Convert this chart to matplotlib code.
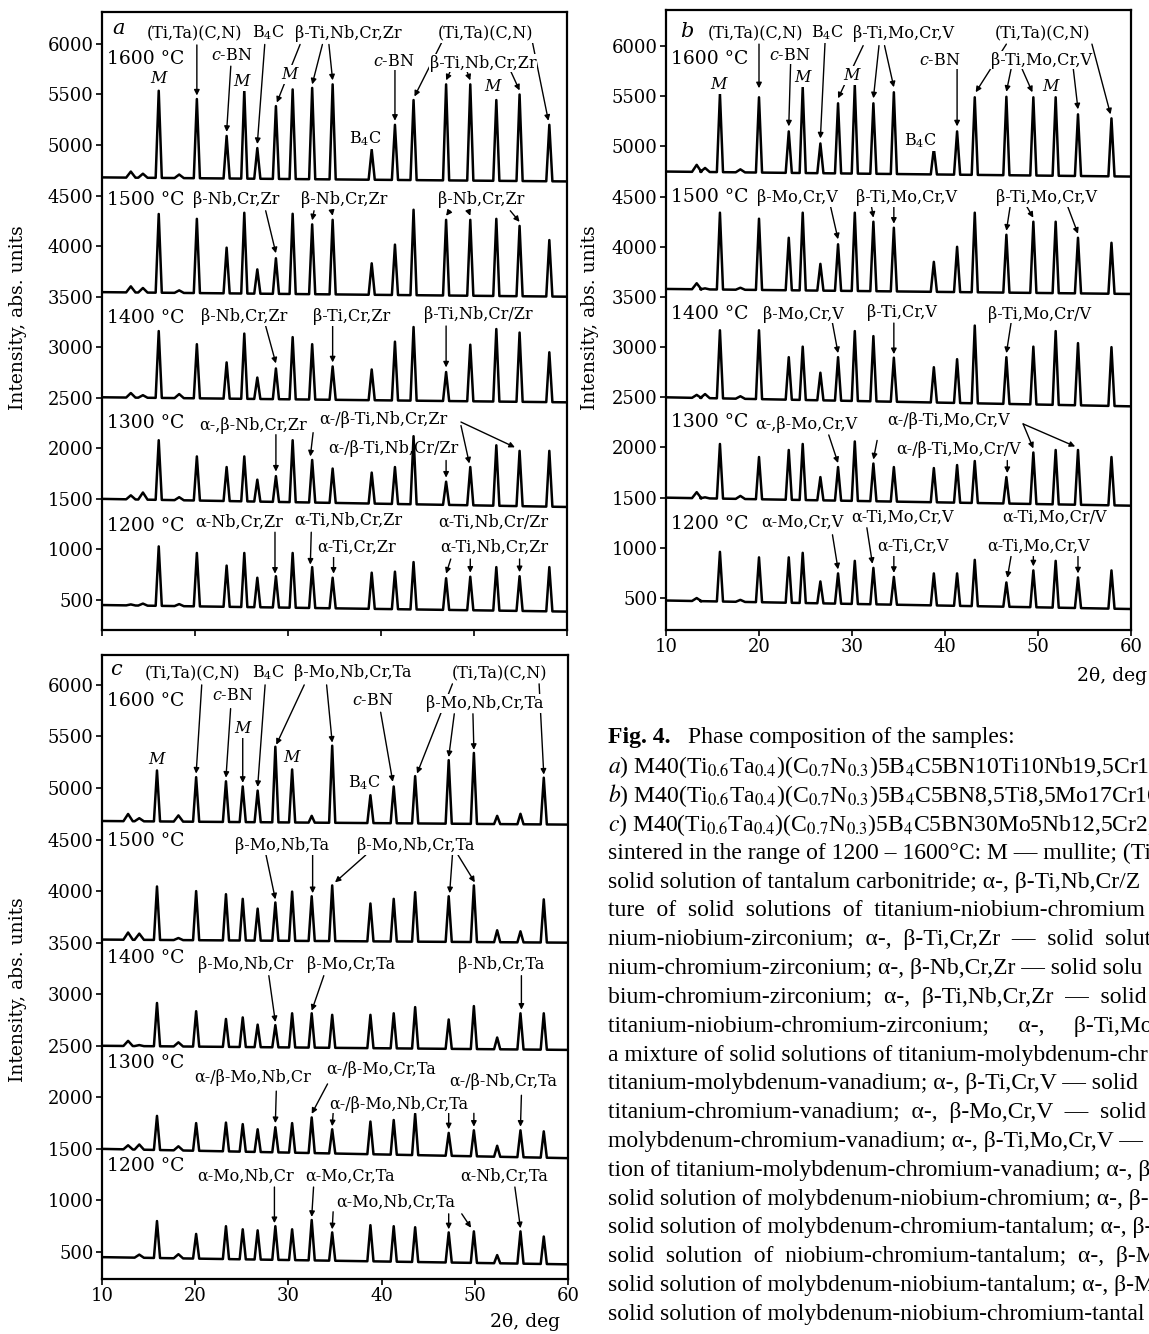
import numpy as np
import matplotlib.pyplot as plt

plt.rcParams['font.family'] = 'DejaVu Serif'
plt.rcParams['mathtext.fontset'] = 'dejavuserif'

temps = ['1600 °C', '1500 °C', '1400 °C', '1300 °C', '1200 °C']

# ---- panel a: peak positions (2theta) and apex intensities per temperature
pos_a = [16.1, 20.2, 23.4, 25.3, 26.7, 28.7, 30.5, 32.6, 34.8, 39.0, 41.5, 43.5, 47.0, 49.6, 52.4, 54.9, 58.1]
a_1600 = [5537, 5455, 5090, 5545, 4970, 5385, 5550, 5565, 5600, 4955, 5200, 5445, 5600, 5600, 5445, 5500, 5200]
a_1500 = [4318, 4270, 3985, 4330, 3770, 3880, 4320, 4215, 4260, 3830, 4015, 4360, 4260, 4260, 4270, 4200, 4060]
a_1400 = [3160, 3030, 2850, 3135, 2700, 2790, 3100, 3030, 2810, 2780, 3055, 3200, 2755, 3025, 3180, 3145, 2950]
a_1300 = [2080, 1920, 1815, 1920, 1690, 1725, 2080, 1885, 1800, 1760, 1815, 2120, 1670, 1815, 2030, 1975, 1975]
a_1200 = [1030, 965, 840, 965, 720, 735, 965, 825, 720, 770, 780, 875, 715, 730, 825, 735, 825]
base_a = [(4680, 4640), (3545, 3500), (2505, 2455), (1500, 1420), (450, 385)]
minor_pos_a = [13.1, 14.4, 18.3]
minor_a = [[60, 40, 35], [60, 45, 25], [45, 25, 40], [40, 70, 30], [10, 20, 20]]

# ---- panel b
pos_b = [15.8, 20.0, 23.2, 24.7, 26.6, 28.5, 30.3, 32.3, 34.5, 38.8, 41.3, 43.2, 46.6, 49.5, 51.9, 54.3, 57.9]
b_1600 = [5525, 5490, 5150, 5590, 5030, 5430, 5610, 5430, 5540, 4980, 5150, 5490, 5495, 5490, 5490, 5320, 5280]
b_1500 = [4340, 4280, 4090, 4340, 3830, 4025, 4340, 4250, 4190, 3850, 4000, 4340, 4120, 4250, 4250, 4090, 4040]
b_1400 = [3168, 3168, 2900, 3005, 2745, 2900, 3160, 3110, 2895, 2800, 2880, 3215, 2900, 3005, 3160, 3040, 3000]
b_1300 = [2035, 1905, 1975, 2035, 1705, 1805, 2060, 1840, 1805, 1795, 1825, 1865, 1705, 1950, 1975, 1975, 1905]
b_1200 = [960, 905, 905, 950, 665, 745, 870, 800, 710, 745, 745, 880, 655, 775, 870, 705, 775]
base_b = [(4750, 4700), (3580, 3530), (2500, 2410), (1500, 1420), (475, 390)]
minor_pos_b = [13.3, 14.2, 18.0]
minor_b = [[70, 40, 30], [60, 10, 20], [30, 40, 25], [60, 10, 30], [30, 0, 20]]

# ---- panel c
pos_c = [15.9, 20.1, 23.3, 25.1, 26.7, 28.6, 30.4, 32.5, 34.7, 38.8, 41.3, 43.6, 47.2, 49.9, 52.4, 54.9, 57.4]
c_1600 = [5170, 5105, 5065, 5015, 4975, 5400, 5180, 4730, 5410, 4930, 5015, 5115, 5270, 5340, 4730, 4750, 5100]
c_1500 = [4045, 4000, 3970, 3925, 3830, 3890, 3995, 3950, 4055, 3880, 3925, 3990, 3950, 4055, 3620, 3610, 3920]
c_1400 = [2915, 2835, 2760, 2775, 2705, 2700, 2815, 2815, 2800, 2800, 2815, 2875, 2755, 2885, 2580, 2815, 2815]
c_1300 = [1820, 1750, 1755, 1740, 1690, 1710, 1750, 1805, 1690, 1765, 1780, 1840, 1655, 1680, 1530, 1680, 1670]
c_1200 = [800, 675, 750, 720, 710, 750, 720, 810, 690, 760, 750, 740, 690, 700, 470, 700, 650]
base_c = [(4680, 4645), (3530, 3500), (2500, 2460), (1500, 1410), (450, 380)]
minor_pos_c = [12.8, 14.0, 18.2]
minor_c = [[70, 30, 60], [70, 60, 20], [50, 10, 40], [40, 50, 40], [0, 30, 40]]

temp_y_a = [5850, 4460, 3290, 2250, 1235]
temp_y_b = [5870, 4500, 3330, 2250, 1235]
temp_y_c = [5845, 4485, 3350, 2330, 1330]

# ---- annotations: (text, x, y[, background])
labels_a = [
    ('(Ti,Ta)(C,N)', 20.0, 6100), ('B$_4$C', 27.9, 6115), ('β-Ti,Nb,Cr,Zr', 36.5, 6100),
    ('$c$-BN', 24.0, 5890), ('$M$', 16.2, 5660), ('$M$', 25.1, 5630), ('$M$', 30.3, 5700),
    ('$M$', 52.1, 5580), ('B$_4$C', 38.3, 5065), ('$c$-BN', 41.4, 5830),
    ('(Ti,Ta)(C,N)', 51.2, 6100), ('β-Ti,Nb,Cr,Zr', 51.0, 5810),
    ('β-Nb,Cr,Zr', 24.4, 4460), ('β-Nb,Cr,Zr', 36.0, 4460), ('β-Nb,Cr,Zr', 50.8, 4460),
    ('β-Nb,Cr,Zr', 25.3, 3300), ('β-Ti,Cr,Zr', 36.8, 3300), ('β-Ti,Nb,Cr/Zr', 50.5, 3320),
    ('α-,β-Nb,Cr,Zr', 26.2, 2230), ('α-/β-Ti,Nb,Cr,Zr', 40.3, 2285),
    ('α-/β-Ti,Nb,Cr/Zr', 41.3, 2000, False),
    ('α-Nb,Cr,Zr', 24.8, 1270), ('α-Ti,Nb,Cr,Zr', 36.5, 1290), ('α-Ti,Cr,Zr', 37.4, 1020),
    ('α-Ti,Nb,Cr/Zr', 52.1, 1270), ('α-Ti,Nb,Cr,Zr', 52.2, 1020),
]
arrows_a = [
    (20.2, 5990, 20.2, 5490), (27.5, 5995, 26.7, 5010), (31.3, 5995, 28.8, 5420),
    (33.7, 5995, 32.6, 5600), (34.4, 5995, 34.8, 5640), (23.85, 5780, 23.4, 5130),
    (41.5, 5750, 41.5, 5240), (46.5, 6010, 43.6, 5480), (56.3, 6010, 58.0, 5240),
    (47.5, 5740, 47.0, 5640), (49.2, 5740, 49.6, 5640), (53.9, 5740, 54.9, 5540),
    (27.6, 4350, 28.7, 3930), (32.8, 4350, 32.6, 4255), (34.7, 4350, 34.8, 4300),
    (47.4, 4350, 47.0, 4300), (49.4, 4350, 49.6, 4300), (53.9, 4350, 54.9, 4240),
    (27.6, 3210, 28.7, 2840), (34.8, 3210, 34.8, 2850), (47.0, 3210, 47.0, 2800),
    (28.7, 2135, 28.7, 1770), (32.7, 2155, 32.4, 1920), (48.6, 2260, 54.4, 2010),
    (48.6, 2225, 49.5, 1850), (47.0, 1880, 47.0, 1710),
    (28.6, 1170, 28.6, 760), (32.5, 1170, 32.4, 850), (34.9, 925, 34.9, 760),
    (47.5, 905, 47.0, 760), (49.6, 905, 49.6, 770), (54.9, 905, 54.9, 775),
]

labels_b = [
    ('(Ti,Ta)(C,N)', 19.6, 6120), ('B$_4$C', 27.3, 6130), ('β-Ti,Mo,Cr,V', 35.5, 6130),
    ('$c$-BN', 23.3, 5910), ('$M$', 15.8, 5620), ('$M$', 24.8, 5690), ('$M$', 30.1, 5710),
    ('$M$', 51.5, 5600), ('$c$-BN', 39.4, 5860), ('B$_4$C', 37.4, 5060),
    ('(Ti,Ta)(C,N)', 50.5, 6120), ('β-Ti,Mo,Cr,V', 50.4, 5860),
    ('β-Mo,Cr,V', 24.1, 4490), ('β-Ti,Mo,Cr,V', 35.9, 4490), ('β-Ti,Mo,Cr,V', 50.9, 4490),
    ('β-Mo,Cr,V', 24.8, 3330), ('β-Ti,Cr,V', 35.4, 3345), ('β-Ti,Mo,Cr/V', 50.2, 3330),
    ('α-,β-Mo,Cr,V', 25.1, 2230), ('α-/β-Ti,Mo,Cr,V', 40.4, 2270),
    ('α-/β-Ti,Mo,Cr/V', 41.5, 1980, False),
    ('α-Mo,Cr,V', 24.7, 1250), ('α-Ti,Mo,Cr,V', 35.4, 1300), ('α-Ti,Cr,V', 36.5, 1010),
    ('α-Ti,Mo,Cr/V', 51.8, 1300), ('α-Ti,Mo,Cr,V', 50.0, 1010),
]
arrows_b = [
    (20.0, 6020, 20.0, 5580), (27.1, 6035, 26.6, 5080), (31.2, 6005, 28.5, 5480),
    (32.9, 6005, 32.3, 5480), (33.5, 6005, 34.5, 5590), (23.4, 5830, 23.2, 5200),
    (41.3, 5770, 41.3, 5200), (46.6, 6020, 43.3, 5540), (55.8, 6020, 57.8, 5320),
    (47.1, 5770, 46.6, 5545), (48.3, 5770, 49.4, 5540), (53.8, 5770, 54.3, 5370),
    (27.7, 4400, 28.5, 4075), (32.1, 4400, 32.3, 4290), (34.5, 4400, 34.5, 4230),
    (47.0, 4400, 46.6, 4160), (48.8, 4400, 49.5, 4290), (53.2, 4400, 54.3, 4130),
    (27.9, 3240, 28.5, 2940), (34.5, 3240, 34.5, 2930), (47.1, 3240, 46.6, 2940),
    (27.5, 2125, 28.5, 1845), (32.7, 2070, 32.3, 1880), (48.4, 2235, 49.5, 1990),
    (48.4, 2235, 54.0, 2010), (46.7, 1870, 46.7, 1745),
    (27.9, 1130, 28.5, 785), (31.6, 1200, 32.2, 840), (34.5, 925, 34.5, 750),
    (47.1, 915, 46.7, 700), (49.5, 915, 49.5, 815), (54.3, 915, 54.3, 745),
]

labels_c = [
    ('(Ti,Ta)(C,N)', 19.7, 6110), ('B$_4$C', 27.8, 6120), ('β-Mo,Nb,Cr,Ta', 36.9, 6120),
    ('$c$-BN', 24.0, 5900), ('$M$', 15.9, 5280), ('$M$', 25.2, 5580), ('$M$', 30.4, 5300),
    ('B$_4$C', 38.2, 5050), ('$c$-BN', 39.1, 5845),
    ('(Ti,Ta)(C,N)', 52.6, 6110), ('β-Mo,Nb,Cr,Ta', 51.1, 5820),
    ('β-Mo,Nb,Ta', 29.3, 4440), ('β-Mo,Nb,Cr,Ta', 43.7, 4440),
    ('β-Mo,Nb,Cr', 25.4, 3290), ('β-Mo,Cr,Ta', 36.7, 3290), ('β-Nb,Cr,Ta', 52.8, 3290),
    ('α-/β-Mo,Nb,Cr', 26.2, 2190), ('α-/β-Mo,Cr,Ta', 40.0, 2270),
    ('α-/β-Mo,Nb,Cr,Ta', 41.8, 1935), ('α-/β-Nb,Cr,Ta', 53.1, 2150),
    ('α-Mo,Nb,Cr', 25.4, 1230), ('α-Mo,Cr,Ta', 36.6, 1230), ('α-Mo,Nb,Cr,Ta', 41.5, 985),
    ('α-Nb,Cr,Ta', 53.2, 1230),
]
arrows_c = [
    (20.7, 6000, 20.1, 5140), (27.5, 6000, 26.7, 5010), (31.7, 6000, 28.7, 5420),
    (34.1, 6000, 34.7, 5440), (23.8, 5770, 23.3, 5100), (25.1, 5500, 25.1, 5050),
    (39.9, 5735, 41.2, 5060), (47.6, 6010, 43.8, 5140), (56.9, 6010, 57.4, 5130),
    (47.8, 5720, 47.2, 5300), (49.8, 5720, 49.9, 5370),
    (27.6, 4350, 28.6, 3920), (32.6, 4350, 32.6, 3980), (38.3, 4350, 35.0, 4085),
    (47.6, 4350, 47.3, 3980), (48.2, 4350, 50.0, 4085),
    (27.9, 3180, 28.6, 2730), (33.8, 3180, 32.5, 2840), (55.0, 3180, 55.0, 2850),
    (28.7, 2060, 28.6, 1750), (34.2, 2130, 32.5, 1840), (34.8, 1845, 34.7, 1720),
    (47.2, 1845, 47.2, 1690), (49.9, 1845, 49.9, 1715), (55.0, 2020, 54.9, 1715),
    (28.5, 1130, 28.5, 780), (32.7, 1130, 32.5, 840), (34.8, 890, 34.7, 720),
    (47.2, 870, 47.2, 720), (48.6, 870, 49.6, 735), (54.3, 1130, 54.9, 730),
]

caption = [
    '$a$) M40(Ti$_{0.6}$Ta$_{0.4}$)(C$_{0.7}$N$_{0.3}$)5B$_4$C5BN10Ti10Nb19,5Cr10',
    '$b$) M40(Ti$_{0.6}$Ta$_{0.4}$)(C$_{0.7}$N$_{0.3}$)5B$_4$C5BN8,5Ti8,5Mo17Cr16',
    '$c$) M40(Ti$_{0.6}$Ta$_{0.4}$)(C$_{0.7}$N$_{0.3}$)5B$_4$C5BN30Mo5Nb12,5Cr2,',
    'sintered in the range of 1200 – 1600°C: M — mullite; (Ti,T',
    'solid solution of tantalum carbonitride; α-, β-Ti,Nb,Cr/Z',
    'ture  of  solid  solutions  of  titanium-niobium-chromium',
    'nium-niobium-zirconium;  α-,  β-Ti,Cr,Zr  —  solid  solut',
    'nium-chromium-zirconium; α-, β-Nb,Cr,Zr — solid solu',
    'bium-chromium-zirconium;  α-,  β-Ti,Nb,Cr,Zr  —  solid',
    'titanium-niobium-chromium-zirconium;     α-,     β-Ti,Mo',
    'a mixture of solid solutions of titanium-molybdenum-chr',
    'titanium-molybdenum-vanadium; α-, β-Ti,Cr,V — solid',
    'titanium-chromium-vanadium;  α-,  β-Mo,Cr,V  —  solid',
    'molybdenum-chromium-vanadium; α-, β-Ti,Mo,Cr,V —',
    'tion of titanium-molybdenum-chromium-vanadium; α-, β-M',
    'solid solution of molybdenum-niobium-chromium; α-, β-M',
    'solid solution of molybdenum-chromium-tantalum; α-, β-N',
    'solid  solution  of  niobium-chromium-tantalum;  α-,  β-M',
    'solid solution of molybdenum-niobium-tantalum; α-, β-Mo,',
    'solid solution of molybdenum-niobium-chromium-tantal',
]

W, H = 1149, 1334
fig = plt.figure(figsize=(W / 100, H / 100), dpi=100)


def make_axes(l, t, r, b):
    return fig.add_axes([l / W, 1 - b / H, (r - l) / W, (b - t) / H])


def profile(pos, tops, base, mpos, mh, hw=0.33, mhw=0.5):
    b0, b1 = base
    bl = lambda x: b0 + (b1 - b0) * (x - 10) / 50
    pk = [(p, t, hw) for p, t in zip(pos, tops)] + \
         [(p, bl(p) + h, mhw) for p, h in zip(mpos, mh)]
    pk.sort()
    xs, ys = [10], [bl(10)]
    for p, t, w in pk:
        xs += [p - w, p, p + w]
        ys += [bl(p - w), t, bl(p + w)]
    xs.append(60)
    ys.append(bl(60))
    return xs, ys


def panel(ax, letter, letter_x, pos, series, bases, mpos, minors, temp_y, labels, arrows,
          ylim, xlabels=True):
    for tops, base, mh in zip(series, bases, minors):
        xs, ys = profile(pos, tops, base, mpos, mh)
        ax.plot(xs, ys, color='black', lw=1.8, zorder=2, solid_joinstyle='round')
    ax.set_xlim(10, 60)
    ax.set_ylim(*ylim)
    ax.set_xticks(range(10, 61, 10))
    ax.set_yticks(range(500, 6001, 500))
    ax.tick_params(direction='out', length=4, width=1.2, labelsize=13, pad=2)
    if not xlabels:
        ax.set_xticklabels([])
    for sp in ax.spines.values():
        sp.set_linewidth(1.6)
    for t, y in zip(temps, temp_y):
        ax.text(10.5, y, t, fontsize=13.5, ha='left', va='center', zorder=5)
    ax.text(letter_x, 6150, '$%s$' % letter, fontsize=15, ha='center', va='center', zorder=5)
    for lab in labels:
        s, x, y = lab[:3]
        bg = lab[3] if len(lab) > 3 else True
        kw = dict(facecolor='white', edgecolor='none', pad=0.6) if bg else None
        ax.text(x, y, s, fontsize=11.5, ha='center', va='center', zorder=5, bbox=kw)
    for x0, y0, x1, y1 in arrows:
        ax.annotate('', xy=(x1, y1), xytext=(x0, y0), zorder=3,
                    arrowprops=dict(arrowstyle='-|>', lw=1.0, color='black',
                                    mutation_scale=8, shrinkA=0, shrinkB=0))


ax_a = make_axes(102, 12, 567, 630)
ax_b = make_axes(666, 10, 1131, 630)
ax_c = make_axes(102, 655, 568, 1279)

panel(ax_a, 'a', 11.8, pos_a, [a_1600, a_1500, a_1400, a_1300, a_1200], base_a, minor_pos_a,
      minor_a, temp_y_a, labels_a, arrows_a, (203, 6316), xlabels=False)
panel(ax_b, 'b', 12.3, pos_b, [b_1600, b_1500, b_1400, b_1300, b_1200], base_b, minor_pos_b,
      minor_b, temp_y_b, labels_b, arrows_b, (181, 6360))
panel(ax_c, 'c', 11.6, pos_c, [c_1600, c_1500, c_1400, c_1300, c_1200], base_c, minor_pos_c,
      minor_c, temp_y_c, labels_c, arrows_c, (238, 6290))

for x, y in [(18, 318), (590, 318), (18, 990)]:
    fig.text(x / W, 1 - y / H, 'Intensity, abs. units', rotation=90, fontsize=13.5,
             ha='center', va='center')
fig.text(1147 / W, 1 - 676 / H, '2θ, deg', fontsize=13.5, ha='right', va='center')
fig.text(560 / W, 1 - 1322 / H, '2θ, deg', fontsize=13.5, ha='right', va='center')

# caption (clipped by the right page edge, as in the source)
cap_font = dict(family='Liberation Serif', fontsize=17, va='center', math_fontfamily='stix')
fig.text(608 / W, 1 - 738 / H, 'Fig. 4.', fontweight='bold', **cap_font)
fig.text(688 / W, 1 - 738 / H, 'Phase composition of the samples:', **cap_font)
for i, line in enumerate(caption):
    fig.text(608 / W, 1 - (767 + i * 28.8) / H, line, **cap_font)

fig.savefig('out.png', dpi=100)
